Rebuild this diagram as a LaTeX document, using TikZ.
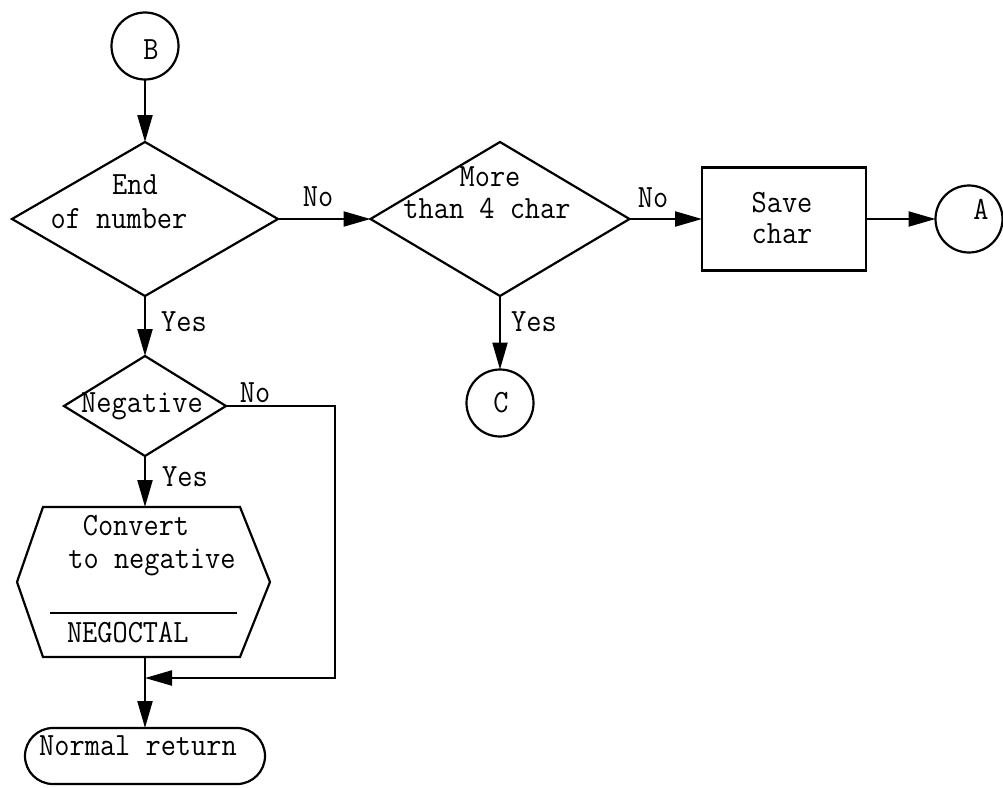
\documentclass[tikz,border=0pt]{standalone}
\usepackage{graphicx}
\usetikzlibrary{shapes.geometric,arrows.meta}
\newcommand\tw[1]{\scalebox{1}[1.1]{#1}}
\tikzset{
  ln/.style={line width=2.2pt, line join=miter},
  arr/.style={ln, -{Triangle[length=27pt,width=15pt]}},
  txt/.style={font=\fontsize{29.5}{31}\selectfont\ttfamily, inner sep=0pt, outer sep=0pt, text height=19pt, text depth=0pt},
  dia/.style={diamond, draw, ln, inner sep=0pt, outer sep=0pt},
  conn/.style={circle, draw, ln, minimum size=67pt, inner sep=0pt, outer sep=0pt},
  procbox/.style={draw, ln, inner sep=0pt, outer sep=0pt},
  termbox/.style={draw, ln, rounded corners=28pt, inner sep=0pt, outer sep=0pt},
}
\begin{document}
\begin{tikzpicture}[x=1pt,y=-1pt]
\useasboundingbox (0,0) rectangle (1003,787);

% shapes
\node[conn] (B) at (145,46) {};
\node[dia, minimum width=266pt, minimum height=154pt] (d1) at (145,219) {};
\node[dia, minimum width=259pt, minimum height=154pt] (d2) at (500,219) {};
\node[procbox, minimum width=164pt, minimum height=103pt] (save) at (784,219) {};
\node[conn] (A) at (969,219) {};
\node[conn] (C) at (500,403) {};
\node[dia, minimum width=162pt, minimum height=100pt] (d3) at (145,406) {};
\node[inner sep=0pt, outer sep=0pt, minimum width=253pt, minimum height=150pt] (hex) at (143.5,582) {};
\draw[ln] (hex.west) -- (43,507) -- (240,507) -- (hex.east) -- (240,657) -- (43,657) -- cycle;
\node[termbox, minimum width=240pt, minimum height=56pt] (ret) at (145,756) {};
\coordinate (sepL) at (50,613);
\coordinate (sepR) at (237,613);
\draw[line width=1.5pt] (sepL) -- (sepR);

% texts
\node[txt] (tB) at (151,50) {\tw{B}};
\node[txt] (t1a) at (135,185) {\tw{End}};
\node[txt] (t1b) at (119,219) {\tw{of number}};
\node[txt] (t2a) at (490,177) {\tw{More}};
\node[txt] (t2b) at (487,209) {\tw{than 4 char}};
\node[txt] (t6a) at (782,203) {\tw{Save}};
\node[txt] (t6b) at (782,234) {\tw{char}};
\node[txt] (tA) at (981,210) {\tw{A}};
\node[txt] (tC) at (501,403) {\tw{C}};
\node[txt] (t3) at (142,403) {\tw{Negative}};
\node[txt] (t4a) at (136,526) {\tw{Convert}};
\node[txt] (t4b) at (152,559) {\tw{to negative}};
\node[txt, anchor=west] (t4c) at (67,633) {\tw{NEGOCTAL}};
\node[txt] (t5) at (138,746) {\tw{Normal return}};

% labels
\node[txt] (lNo1) at (318,197) {\tw{No}};
\node[txt] (lNo2) at (653,198) {\tw{No}};
\node[txt] (lYes2) at (534,322) {\tw{Yes}};
\node[txt] (lYes1) at (184,322) {\tw{Yes}};
\node[txt] (lNo3) at (255,393) {\tw{No}};
\node[txt] (lYes3) at (185,477) {\tw{Yes}};

% connectors
\draw[arr] (B.south) -- (d1.north);
\draw[arr] (d1.east) -- (d2.west);
\draw[arr] (d2.east) -- (save.west);
\draw[arr] (save.east) -- (A.west);
\draw[arr] (d2.south) -- (C.north);
\draw[arr] (d1.south) -- (d3.north);
\draw[arr] (d3.south) -- (d3.south |- hex.north);
\coordinate (j) at (145,678);
\coordinate (nr) at (335,406);
\coordinate (nb) at (335,678);
\draw[ln] (d3.south |- hex.south) -- (j);
\draw[arr] (j) -- (ret.north);
\draw[arr] (d3.east) -- (nr) -- (nb) -- (j);
\end{tikzpicture}
\end{document}
